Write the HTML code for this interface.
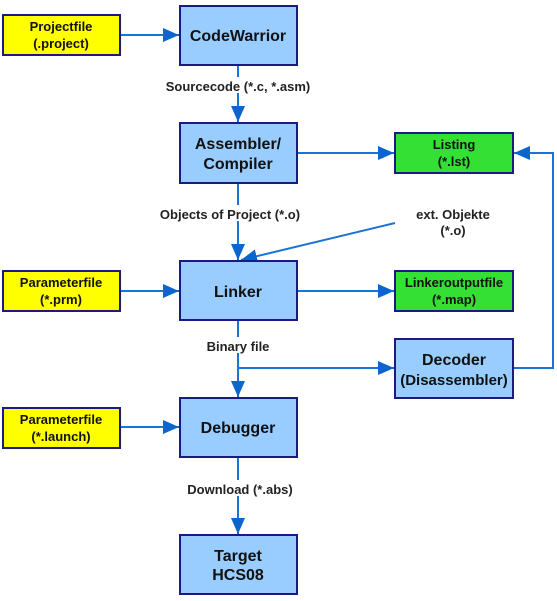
<!DOCTYPE html>
<html><head><meta charset="utf-8"><style>
html,body{margin:0;padding:0;background:#fff}
svg{display:block;font-family:"Liberation Sans",Arial,sans-serif}
</style></head><body>
<svg width="557" height="601" viewBox="0 0 557 601" xmlns="http://www.w3.org/2000/svg">
<defs>
<marker id="a" markerWidth="16" markerHeight="14" refX="16" refY="7" orient="auto" markerUnits="userSpaceOnUse">
<path d="M0,0 L16,7 L0,14 Z" fill="#0a66cc"/></marker>
</defs>
<g stroke="#1a73d6" stroke-width="2" fill="none">
<line x1="120" y1="35" x2="179" y2="35" marker-end="url(#a)"/>
<line x1="238" y1="65" x2="238" y2="122" marker-end="url(#a)"/>
<line x1="297" y1="153" x2="394" y2="153" marker-end="url(#a)"/>
<line x1="238" y1="183" x2="238" y2="260" marker-end="url(#a)"/>
<line x1="395" y1="223" x2="241" y2="260" marker-end="url(#a)"/>
<line x1="120" y1="291" x2="179" y2="291" marker-end="url(#a)"/>
<line x1="297" y1="291" x2="394" y2="291" marker-end="url(#a)"/>
<line x1="238" y1="320" x2="238" y2="397" marker-end="url(#a)"/>
<line x1="238" y1="368" x2="394" y2="368" marker-end="url(#a)"/>
<polyline points="513,368 553,368 553,153 514,153" marker-end="url(#a)"/>
<line x1="120" y1="427" x2="179" y2="427" marker-end="url(#a)"/>
<line x1="238" y1="457" x2="238" y2="534" marker-end="url(#a)"/>
</g>
<g fill="#fff">
<rect x="160" y="77" width="156" height="16"/>
<rect x="150" y="205" width="164" height="16"/>
<rect x="200" y="337" width="76" height="16"/>
<rect x="180" y="480" width="118" height="16"/>
</g>
<g stroke="#1a1a80" stroke-width="2">
<rect x="3" y="15" width="117" height="40" fill="#ffff00"/>
<rect x="180" y="6" width="117" height="59" fill="#99ccff"/>
<rect x="180" y="123" width="117" height="60" fill="#99ccff"/>
<rect x="395" y="133" width="118" height="40" fill="#33e033"/>
<rect x="3" y="271" width="117" height="40" fill="#ffff00"/>
<rect x="180" y="261" width="117" height="59" fill="#99ccff"/>
<rect x="395" y="271" width="118" height="40" fill="#33e033"/>
<rect x="395" y="339" width="118" height="59" fill="#99ccff"/>
<rect x="3" y="408" width="117" height="40" fill="#ffff00"/>
<rect x="180" y="398" width="117" height="59" fill="#99ccff"/>
<rect x="180" y="535" width="117" height="59" fill="#99ccff"/>
</g>
<g fill="#111" font-weight="bold" text-anchor="middle">
<g font-size="13">
<text x="61" y="31">Projectfile</text><text x="61" y="48">(.project)</text>
<text x="454" y="149">Listing</text><text x="454" y="166">(*.lst)</text>
<text x="61" y="287">Parameterfile</text><text x="61" y="304">(*.prm)</text>
<text x="454" y="287">Linkeroutputfile</text><text x="454" y="304">(*.map)</text>
<text x="61" y="424">Parameterfile</text><text x="61" y="441">(*.launch)</text>
</g>
<g font-size="16">
<text x="238" y="41">CodeWarrior</text>
<text x="238" y="149">Assembler/</text><text x="238" y="169">Compiler</text>
<text x="238" y="297">Linker</text>
<text x="454" y="365">Decoder</text><text x="454" y="385" font-size="15">(Disassembler)</text>
<text x="238" y="433">Debugger</text>
<text x="238" y="561">Target</text><text x="238" y="580">HCS08</text>
</g>
<g font-size="13" fill="#222">
<text x="238" y="91">Sourcecode (*.c, *.asm)</text>
<text x="230" y="219">Objects of Project  (*.o)</text>
<text x="453" y="219">ext. Objekte</text><text x="453" y="235">(*.o)</text>
<text x="238" y="351">Binary file</text>
<text x="240" y="494">Download (*.abs)</text>
</g>
</g>
</svg>
</body></html>
